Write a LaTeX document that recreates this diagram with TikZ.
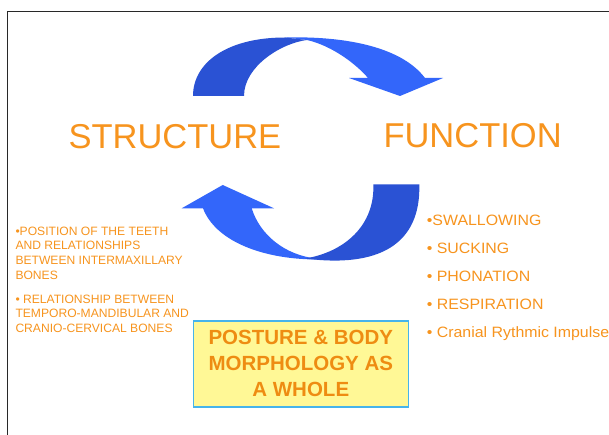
\documentclass[tikz,border=0pt]{standalone}
\usepackage{fontspec}
\setmainfont{Liberation Sans}
\newfontfamily\widesans[FakeStretch=1.06]{Liberation Sans}
\definecolor{dkblue}{RGB}{42,82,212}
\definecolor{ltblue}{RGB}{51,102,250}
\definecolor{orng}{RGB}{247,148,30}
\definecolor{boxorng}{RGB}{238,140,18}
\definecolor{boxfill}{RGB}{255,248,150}
\definecolor{boxline}{RGB}{70,180,235}
\definecolor{framec}{RGB}{40,40,40}
\begin{document}
\begin{tikzpicture}[x=1pt,y=-1pt,
  bigtxt/.style={font=\fontsize{34.5}{40}\selectfont, text=orng, inner sep=0, anchor=base west},
  lefttxt/.style={font=\fontsize{12.1}{14}\selectfont, text=orng, inner sep=0, anchor=base west},
  righttxt/.style={font=\widesans\fontsize{15}{18}\selectfont, text=orng, inner sep=0, anchor=base west},
  boxnode/.style={draw=boxline, fill=boxfill, line width=1.5pt, minimum width=215pt, minimum height=85.7pt,
     align=center, text=boxorng, font=\bfseries\fontsize{20.5}{26}\selectfont, inner sep=0}]
\useasboundingbox (0,0) rectangle (609,435);
\fill[white] (0,0) rectangle (609,435);
% frame
\draw[framec, line width=1.3pt] (7.2,435) -- (7.2,11.5) -- (609,11.5);
% top arrow: light part with head
\fill[ltblue] (285,37.5) .. controls (340,36) and (400,45) .. (425,78) -- (443,78) -- (400,96) -- (349,78) -- (368,78)
   .. controls (357,65) and (333,46) .. (307,40) -- cycle;
% top arrow: dark part
\fill[dkblue] (193,96) .. controls (193,62) and (228,37.5) .. (285,37.5) -- (307,40)
   .. controls (282,43) and (244,66) .. (244,96) -- cycle;
% bottom arrow: light part with head
\fill[ltblue] (222.7,185) -- (274,208.3) -- (251.7,208.3) .. controls (260,235) and (285,255) .. (316,258.5)
   -- (316,259.5) .. controls (260,259) and (215,240) .. (203,208.3) -- (181.7,208.3) -- cycle;
% bottom arrow: dark part
\fill[dkblue] (419.3,184.3) .. controls (421,245) and (378,268) .. (305,258.5)
   .. controls (345,252) and (375,225) .. (373.3,184.3) -- cycle;
% titles
\node[bigtxt] (structure) at (68.3,148.3) {STRUCTURE};
\node[bigtxt] (function) at (383.3,147.7) {FUNCTION};
% left list
\node[lefttxt] (l1) at (15.3,235.3) {•POSITION OF THE TEETH};
\node[lefttxt] (l2) at (15.3,249.7) {AND RELATIONSHIPS};
\node[lefttxt] (l3) at (15.3,264) {BETWEEN INTERMAXILLARY};
\node[lefttxt] (l4) at (15.3,279) {BONES};
\node[lefttxt] (l5) at (15.3,303) {• RELATIONSHIP BETWEEN};
\node[lefttxt] (l6) at (15.3,317.3) {TEMPORO-MANDIBULAR AND};
\node[lefttxt] (l7) at (15.3,332) {CRANIO-CERVICAL BONES};
% right list
\node[righttxt] (r1) at (426.7,225.7) {•SWALLOWING};
\node[righttxt] (r2) at (426.7,253.3) {• SUCKING};
\node[righttxt] (r3) at (426.7,281) {• PHONATION};
\node[righttxt] (r4) at (426.7,309.3) {• RESPIRATION};
\node[righttxt] (r5) at (426.7,337.7) {• Cranial Rythmic Impulse};
% box
\node[boxnode] (box) at (300.8,363.9) {POSTURE \& BODY\\MORPHOLOGY AS\\A WHOLE};
\end{tikzpicture}
\end{document}
